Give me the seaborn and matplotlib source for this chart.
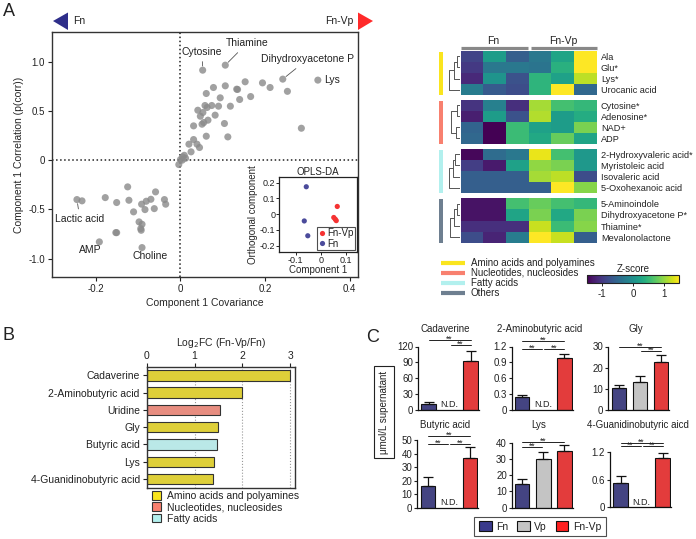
import numpy as np
import pandas as pd
import matplotlib
matplotlib.use('Agg')
import matplotlib.pyplot as plt
import seaborn as sns
from matplotlib.patches import Patch, Polygon
from matplotlib.lines import Line2D

# ---------------- DATA ----------------
# Panel A: S-plot
cov = [0.0525, 0.106, 0.242, 0.325, 0.253, 0.286, 0.212, 0.194, 0.153, 0.135,
       0.133, 0.106, 0.078, 0.061, 0.166, 0.140, 0.094, 0.118, 0.090, 0.074,
       0.058, 0.063, 0.041, 0.053, 0.047, 0.065, 0.082, 0.055, 0.051, 0.031,
       0.104, 0.061, 0.112, 0.031, 0.020, 0.039, 0.045, 0.025, 0.009, 0.005,
       0.000, -0.004, 0.004, 0.012,
       -0.245, -0.233, -0.178, -0.151, -0.125, -0.122, -0.111, -0.092, -0.084, -0.081,
       -0.070, -0.059, -0.062, -0.038, -0.035, -0.098, -0.091, -0.094, -0.093, -0.153,
       -0.151, -0.192, -0.091]
corr = [0.915, 0.966, 0.824, 0.814, 0.70, 0.325, 0.739, 0.786, 0.797, 0.719,
        0.722, 0.756, 0.739, 0.678, 0.647, 0.617, 0.634, 0.549, 0.549, 0.556,
        0.556, 0.536, 0.508, 0.485, 0.447, 0.407, 0.458, 0.383, 0.366, 0.349,
        0.373, 0.244, 0.237, 0.210, 0.163, 0.163, 0.129, 0.085, 0.05, 0.034,
        0.007, -0.044, 0.0, 0.02,
        -0.40, -0.413, -0.38, -0.43, -0.271, -0.407, -0.525, -0.447, -0.502, -0.417,
        -0.397, -0.322, -0.492, -0.40, -0.447, -0.627, -0.651, -0.695, -0.712, -0.736,
        -0.736, -0.83, -0.888]
labeled_names = ['Cytosine', 'Thiamine', 'Dihydroxyacetone P', 'Lys', 'Lactic acid', 'AMP', 'Choline']
labeled_xy = [(0.0525, 0.915), (0.106, 0.966), (0.242, 0.824), (0.325, 0.814),
              (-0.245, -0.40), (-0.192, -0.83), (-0.091, -0.888)]

# Inset OPLS-DA scores
opls_group = ['Fn', 'Fn', 'Fn', 'Fn-Vp', 'Fn-Vp', 'Fn-Vp', 'Fn-Vp']
opls_comp1 = [-0.058, -0.066, -0.052, 0.066, 0.052, 0.058, 0.062]
opls_orth = [0.173, -0.044, -0.138, 0.048, -0.022, -0.033, -0.042]

# Heatmap (Z-scores), columns: Fn x3, Fn-Vp x3
hm_cols = ['Fn1', 'Fn2', 'Fn3', 'FnVp1', 'FnVp2', 'FnVp3']
rows_amino = ['Ala', 'Glu*', 'Lys*', 'Urocanic acid']
z_amino = [[-0.9, 0.15, -0.6, -0.3, 0.25, 1.5],
           [-1.0, -0.3, -0.3, -0.35, 0.4, 1.5],
           [-1.15, 0.05, -0.75, 0.45, 0.2, 1.2],
           [-0.25, -0.65, -0.8, 0.45, 1.5, -0.5]]
rows_nucleo = ['Cytosine*', 'Adenosine*', 'NAD+', 'ADP']
z_nucleo = [[-1.05, -0.2, -1.1, 1.1, 0.6, 0.5],
            [-1.25, 0.15, -0.75, 1.15, 0.15, 0.35],
            [-0.55, -1.5, 0.55, 0.2, 0.15, 0.9],
            [-0.5, -1.5, 0.55, 0.3, 0.8, 0.25]]
rows_fatty = ['2-Hydroxyvaleric acid*', 'Myristoleic acid', 'Isovaleric acid', '5-Oxohexanoic acid']
z_fatty = [[-1.45, -0.45, -0.3, 1.4, 0.6, 0.1],
           [-0.95, -1.3, 0.2, 1.0, 0.9, 0.1],
           [-0.6, -0.6, -0.6, 1.1, 1.2, -0.8],
           [-0.6, -0.6, -0.6, -0.6, 1.5, 0.95]]
rows_others = ['5-Aminoindole', 'Dihydroxyacetone P*', 'Thiamine*', 'Mevalonolactone']
z_others = [[-1.35, -1.35, 0.6, 0.8, 0.6, 0.5],
            [-1.35, -1.35, 0.25, 0.9, 0.3, 0.9],
            [-1.1, -1.1, -1.1, 1.25, 0.55, 0.95],
            [-0.8, -1.2, -0.25, 1.5, 1.25, -0.6]]
group_names = ['Amino acids and polyamines', 'Nucleotides, nucleosides', 'Fatty acids', 'Others']
dendro_merges = [[(0, 1, 0.3), (4, 2, 0.55), (5, 3, 1.0)],
                 [(0, 1, 0.3), (2, 3, 0.35), (4, 5, 0.8)],
                 [(0, 1, 0.45), (4, 2, 0.6), (5, 3, 1.0)],
                 [(0, 1, 0.3), (4, 2, 0.55), (5, 3, 0.9)]]

# Panel B
b_names = ['Cadaverine', '2-Aminobutyric acid', 'Uridine', 'Gly', 'Butyric acid', 'Lys',
           '4-Guanidinobutyric acid']
b_log2fc = [2.99, 1.99, 1.53, 1.49, 1.46, 1.40, 1.38]
b_class = ['Amino acids and polyamines', 'Amino acids and polyamines', 'Nucleotides, nucleosides',
           'Amino acids and polyamines', 'Fatty acids', 'Amino acids and polyamines',
           'Amino acids and polyamines']

# Panel C
c_groups = ['Fn', 'Vp', 'Fn-Vp']
c_titles = ['Cadaverine', '2-Aminobutyric acid', 'Gly', 'Butyric acid', 'Lys',
            '4-Guanidinobutyric aicd']
c_mean = [[10.5, None, 93.0],
          [0.25, None, 0.98],
          [10.3, 13.0, 22.5],
          [16.0, None, 37.0],
          [14.5, 30.0, 35.0],
          [0.52, None, 1.06]]
c_err = [[5.5, None, 19.0],
         [0.04, None, 0.08],
         [1.5, 3.0, 3.7],
         [6.5, None, 8.0],
         [3.0, 4.5, 3.5],
         [0.15, None, 0.12]]
c_yticks = [[0, 30, 60, 90, 120],
            [0, 0.3, 0.6, 0.9, 1.2],
            [0, 10, 20, 30],
            [0, 10, 20, 30, 40, 50],
            [0, 10, 20, 30, 40],
            [0, 0.6, 1.2]]
c_sig = [[(0, 2, 132.7), (1, 2, 121.9)],
         [(0, 2, 1.295), (0, 1, 1.156), (1, 2, 1.156)],
         [(0, 2, 29.9), (1, 2, 27.7)],
         [(0, 2, 53.2), (0, 1, 47.0), (1, 2, 47.0)],
         [(0, 2, 40.5), (0, 1, 37.5)],
         [(0, 2, 1.381), (0, 1, 1.323), (1, 2, 1.323)]]

# ---------------- STYLE ----------------
sns.set_theme(style='white')
plt.rcParams['font.family'] = ['Liberation Sans', 'DejaVu Sans']
plt.rcParams['axes.unicode_minus'] = False
plt.rcParams['axes.edgecolor'] = '#333333'
plt.rcParams['xtick.color'] = '#222222'
plt.rcParams['ytick.color'] = '#222222'
plt.rcParams['text.color'] = '#222222'

W, H = 696, 539
fig = plt.figure(figsize=(W / 100, H / 100), dpi=100)


def px_axes(L, T, R, B, **kw):
    return fig.add_axes([L / W, 1 - B / H, (R - L) / W, (B - T) / H], **kw)


class_colors = {'Amino acids and polyamines': '#FAE51E',
                'Nucleotides, nucleosides': '#F8806F',
                'Fatty acids': '#B2F0EE',
                'Others': '#6E7F90'}
grp_colors = {'Fn': '#3A3A8C', 'Vp': '#C4C4C4', 'Fn-Vp': '#FF2020'}

# ---------------- PANEL A ----------------
axA = px_axes(52, 32.3, 358, 277.3)
sns.scatterplot(x=cov, y=corr, ax=axA, color='#8a8a8a', alpha=0.8, s=26,
                edgecolor='none', linewidth=0)
axA.set_xlim(-0.304, 0.42)
axA.set_ylim(-1.19, 1.30)
axA.axvline(0, color='#222', ls=':', lw=1.1, zorder=0)
axA.axhline(0, color='#222', ls=':', lw=1.1, zorder=0)
axA.set_xticks([-0.2, 0, 0.2, 0.4])
axA.set_xticklabels(['-0.2', '0', '0.2', '0.4'])
axA.set_yticks([-1.0, -0.5, 0, 0.5, 1.0])
axA.set_yticklabels(['-1.0', '-0.5', '0', '0.5', '1.0'])
axA.tick_params(labelsize=7, length=3, width=0.8, direction='out', pad=2, left=True, bottom=True)
axA.set_xlabel('Component 1 Covariance', fontsize=7.5, labelpad=3)
axA.set_ylabel('Component 1 Correlation (p(corr))', fontsize=7.5, labelpad=3)
for s in axA.spines.values():
    s.set_linewidth(1.0)

label_text_pos = {'Cytosine': (0.051, 1.10), 'Thiamine': (0.157, 1.187),
                  'Dihydroxyacetone P': (0.30, 1.024), 'Lys': (0.341, 0.814),
                  'Lactic acid': (-0.238, -0.593), 'AMP': (-0.213, -0.908),
                  'Choline': (-0.073, -0.977)}
with_line = {'Cytosine', 'Thiamine', 'Dihydroxyacetone P', 'Lactic acid'}
for name, xy in zip(labeled_names, labeled_xy):
    tx, ty = label_text_pos[name]
    ha = 'left' if name == 'Lys' else 'center'
    if name in with_line:
        axA.annotate(name, xy=xy, xytext=(tx, ty), fontsize=7.5, ha=ha, va='center',
                     arrowprops=dict(arrowstyle='-', color='#555', lw=0.6, shrinkA=1, shrinkB=3))
    else:
        axA.text(tx, ty, name, fontsize=7.5, ha=ha, va='center')

# Inset
axI = px_axes(279.3, 177.3, 357, 252)
df_opls = pd.DataFrame({'group': opls_group, 'c1': opls_comp1, 'orth': opls_orth})
sns.scatterplot(data=df_opls, x='c1', y='orth', hue='group', hue_order=['Fn-Vp', 'Fn'],
                palette={'Fn-Vp': '#F53333', 'Fn': '#4B4B9B'}, s=14, edgecolor='none',
                linewidth=0, ax=axI)
axI.set_xlim(-0.166, 0.145)
axI.set_ylim(-0.241, 0.233)
axI.set_xticks([-0.1, 0, 0.1])
axI.set_xticklabels(['-0.1', '0', '0.1'])
axI.set_yticks([-0.2, -0.1, 0, 0.1, 0.2])
axI.set_yticklabels(['-0.2', '-0.1', '0', '0.1', '0.2'])
axI.tick_params(labelsize=6.5, length=2, width=0.7, pad=1, left=True, bottom=True)
axI.set_xlabel('Component 1', fontsize=7, labelpad=0)
axI.set_ylabel('Orthogonal component', fontsize=7, labelpad=1)
axI.set_title('OPLS-DA', fontsize=7, pad=2)
for s in axI.spines.values():
    s.set_linewidth(0.9)
    s.set_color('#222')
leg = axI.legend(loc='lower right', fontsize=7, frameon=True, fancybox=False,
                 handletextpad=0.1, borderpad=0.15, labelspacing=0.05, handlelength=0.8,
                 borderaxespad=0.2, markerscale=1.0)
leg.get_frame().set_edgecolor('#222')
leg.get_frame().set_linewidth(0.8)

# ---------------- HEATMAP ----------------
hm_data = [z_amino, z_nucleo, z_fatty, z_others]
hm_rows = [rows_amino, rows_nucleo, rows_fatty, rows_others]
group_tops = [50.7, 99.5, 148.7, 198.3]
gh = 44.5
hm_axes = []
for gi, (z, rows, top) in enumerate(zip(hm_data, hm_rows, group_tops)):
    ax = px_axes(460.7, top, 596.7, top + gh)
    df = pd.DataFrame(z, index=rows, columns=hm_cols)
    sns.heatmap(df, ax=ax, cmap='viridis', vmin=-1.5, vmax=1.5, cbar=False,
                xticklabels=False, yticklabels=True)
    ax.yaxis.tick_right()
    ax.tick_params(axis='y', length=0, labelsize=6.6, pad=3, rotation=0)
    ax.set_xlabel('')
    ax.set_ylabel('')
    hm_axes.append(ax)
    # dendrogram
    axd = px_axes(448.3, top, 460.2, top + gh)
    pos = {i: (i + 0.5, 0.0) for i in range(len(rows))}
    k = len(rows)
    for a, b, h in dendro_merges[gi]:
        ya, ha_ = pos[a]
        yb, hb = pos[b]
        axd.plot([ha_, h, h, hb], [ya, ya, yb, yb], color='#555', lw=0.7)
        pos[k] = ((ya + yb) / 2, h)
        k += 1
    axd.set_xlim(1.05, 0)
    axd.set_ylim(len(rows), 0)
    axd.axis('off')
    # group color bar
    axg = px_axes(439.3, top + 1, 443.3, top + gh)
    axg.set_facecolor(class_colors[group_names[gi]])
    axg.set_xticks([])
    axg.set_yticks([])
    for s in axg.spines.values():
        s.set_visible(False)

cax = px_axes(587, 275, 679, 283)
cb = fig.colorbar(hm_axes[0].collections[0], cax=cax, orientation='horizontal')
cb.set_ticks([-1, 0, 1])
cb.set_ticklabels(['-1', '0', '1'])
cb.ax.tick_params(labelsize=7, length=2, width=0.7, pad=2)
cb.outline.set_linewidth(0.8)
cb.outline.set_edgecolor('#222')
cax.set_title('Z-score', fontsize=7, pad=2)

# ---------------- PANEL B ----------------
axB = px_axes(146.7, 366.7, 295, 487.7)
df_b = pd.DataFrame({'name': b_names, 'log2fc': b_log2fc, 'cls': b_class})
sns.barplot(data=df_b, x='log2fc', y='name', hue='cls', palette=class_colors, dodge=False,
            width=0.6, edgecolor='#333', linewidth=0.8, legend=False, ax=axB)
axB.set_xlim(0, 3.1)
axB.xaxis.tick_top()
axB.xaxis.set_label_position('top')
axB.set_xticks([0, 1, 2, 3])
axB.set_xticklabels(['0', '1', '2', '3'])
axB.xaxis.grid(True, linestyle=':', color='#999', lw=0.8)
axB.set_axisbelow(True)
axB.set_xlabel('Log$_2$FC (Fn-Vp/Fn)', fontsize=7.5, labelpad=4)
axB.set_ylabel('')
axB.tick_params(axis='x', labelsize=7.5, length=3, width=0.8, pad=1, top=True, bottom=False)
axB.tick_params(axis='y', labelsize=7.5, length=3, width=0.8, pad=2, left=True)
for s in axB.spines.values():
    s.set_linewidth(1.0)
b_handles = [Patch(facecolor=class_colors[c], edgecolor='#333', linewidth=0.8)
             for c in group_names[:3]]
fig.legend(b_handles, group_names[:3], loc='upper left',
           bbox_to_anchor=(152 / W, 1 - 491 / H), fontsize=7.5, frameon=False,
           handlelength=0.9, handleheight=0.9, handletextpad=0.5, labelspacing=0.12,
           borderpad=0, borderaxespad=0)

# ---------------- PANEL C ----------------
c_pos = [(418, 346.5, 410), (511.7, 346.5, 410), (608.3, 346.5, 410),
         (417.3, 440, 507.6), (511.7, 442.7, 507.6), (610, 451.7, 507.4)]
for i in range(6):
    L, T, B = c_pos[i]
    ax = px_axes(L, T, L + 61, B)
    rows = [(g, m) for g, m in zip(c_groups, c_mean[i]) if m is not None]
    df_c = pd.DataFrame(rows, columns=['group', 'value'])
    sns.barplot(data=df_c, x='group', y='value', hue='group', order=c_groups,
                hue_order=c_groups, palette=grp_colors, width=0.69, edgecolor='#111',
                linewidth=0.8, legend=False, errorbar=None, ax=ax)
    for xi, (m, e) in enumerate(zip(c_mean[i], c_err[i])):
        if m is None:
            ytop = c_yticks[i][-1]
            ax.text(xi, ytop * 0.01, 'N.D.', ha='center', va='bottom', fontsize=6.5)
        else:
            ax.errorbar([xi], [m], yerr=[[0], [e]], fmt='none', ecolor='#111',
                        elinewidth=0.9, capsize=3.5, capthick=0.9, zorder=1)
    ytop = c_yticks[i][-1]
    ax.set_ylim(0, ytop)
    ax.set_xlim(-0.5, 2.4)
    ax.set_yticks(c_yticks[i])
    ax.set_yticklabels([f'{t:g}' for t in c_yticks[i]])
    ax.set_xticks([])
    ax.set_xlabel('')
    ax.set_ylabel('')
    ax.tick_params(axis='y', labelsize=7, length=2.5, width=0.8, pad=1, left=True)
    sns.despine(ax=ax)
    for s in ax.spines.values():
        s.set_linewidth(0.9)
        s.set_color('#111')
    for (a, b, yv) in c_sig[i]:
        x0 = a + (0.05 if a == 1 else 0)
        x1 = b - (0.05 if b == 1 else 0)
        ax.plot([x0, x1], [yv, yv], color='#222', lw=0.7, clip_on=False)
        ax.annotate('**', xy=((x0 + x1) / 2, yv), xytext=(0, -2.6), textcoords='offset points',
                    ha='center', va='bottom', fontsize=6.2, annotation_clip=False)
    pos_ = ax.get_position()
    ty = 328.5 if i < 3 else 425.5
    fig.text(pos_.x0 + pos_.width * 0.45, 1 - ty / H, c_titles[i], ha='center', va='center',
             fontsize=7)

fig.text(384 / W, 1 - 412 / H, 'μmol/L supernatant', rotation=90, ha='center', va='center',
         fontsize=7, bbox=dict(boxstyle='square,pad=0.5', facecolor='white',
                                edgecolor='#222', linewidth=0.8))
c_handles = [Patch(facecolor=grp_colors[g], edgecolor='#111', linewidth=0.8) for g in c_groups]
legC = fig.legend(c_handles, c_groups, loc='center', ncol=3,
                  bbox_to_anchor=(540 / W, 1 - 526.5 / H), fontsize=7.5, frameon=True,
                  fancybox=False, handlelength=1.2, handleheight=1.0, handletextpad=0.4,
                  columnspacing=0.9, borderpad=0.45)
legC.get_frame().set_edgecolor('#222')
legC.get_frame().set_linewidth(0.8)

# ---------------- OVERLAY DECORATIONS ----------------
ov = fig.add_axes([0, 0, 1, 1], zorder=10)
ov.set_xlim(0, W)
ov.set_ylim(H, 0)
ov.axis('off')
ov.text(3, 11, 'A', fontsize=13, ha='left', va='center')
ov.text(3, 335, 'B', fontsize=13, ha='left', va='center')
ov.text(366, 338, 'C', fontsize=13, ha='left', va='center')
ov.add_patch(Polygon([(53, 21), (68, 12.5), (68, 30)], closed=True, color='#2E2E8A', lw=0))
ov.text(73, 21, 'Fn', fontsize=7.5, ha='left', va='center')
ov.add_patch(Polygon([(373, 21), (358, 12.5), (358, 30)], closed=True, color='#FF2A2A', lw=0))
ov.text(353, 21, 'Fn-Vp', fontsize=7.5, ha='right', va='center')
# heatmap header
ov.plot([460.7, 528.3], [47.7, 47.7], color='#888', lw=2.3, solid_capstyle='butt')
ov.plot([531, 596.7], [47.7, 47.7], color='#888', lw=2.3, solid_capstyle='butt')
ov.text(493, 41, 'Fn', fontsize=7.5, ha='center', va='center')
ov.text(563, 41, 'Fn-Vp', fontsize=7.5, ha='center', va='center')
# heatmap group legend
for k, (gname, yy) in enumerate(zip(group_names, [262.7, 272.7, 282.7, 293.0])):
    ov.plot([440.7, 465], [yy, yy], color=class_colors[gname], lw=3.0, solid_capstyle='butt')
    ov.text(470.7, yy, gname, fontsize=7, ha='left', va='center')

fig.savefig('out.png', dpi=100)
